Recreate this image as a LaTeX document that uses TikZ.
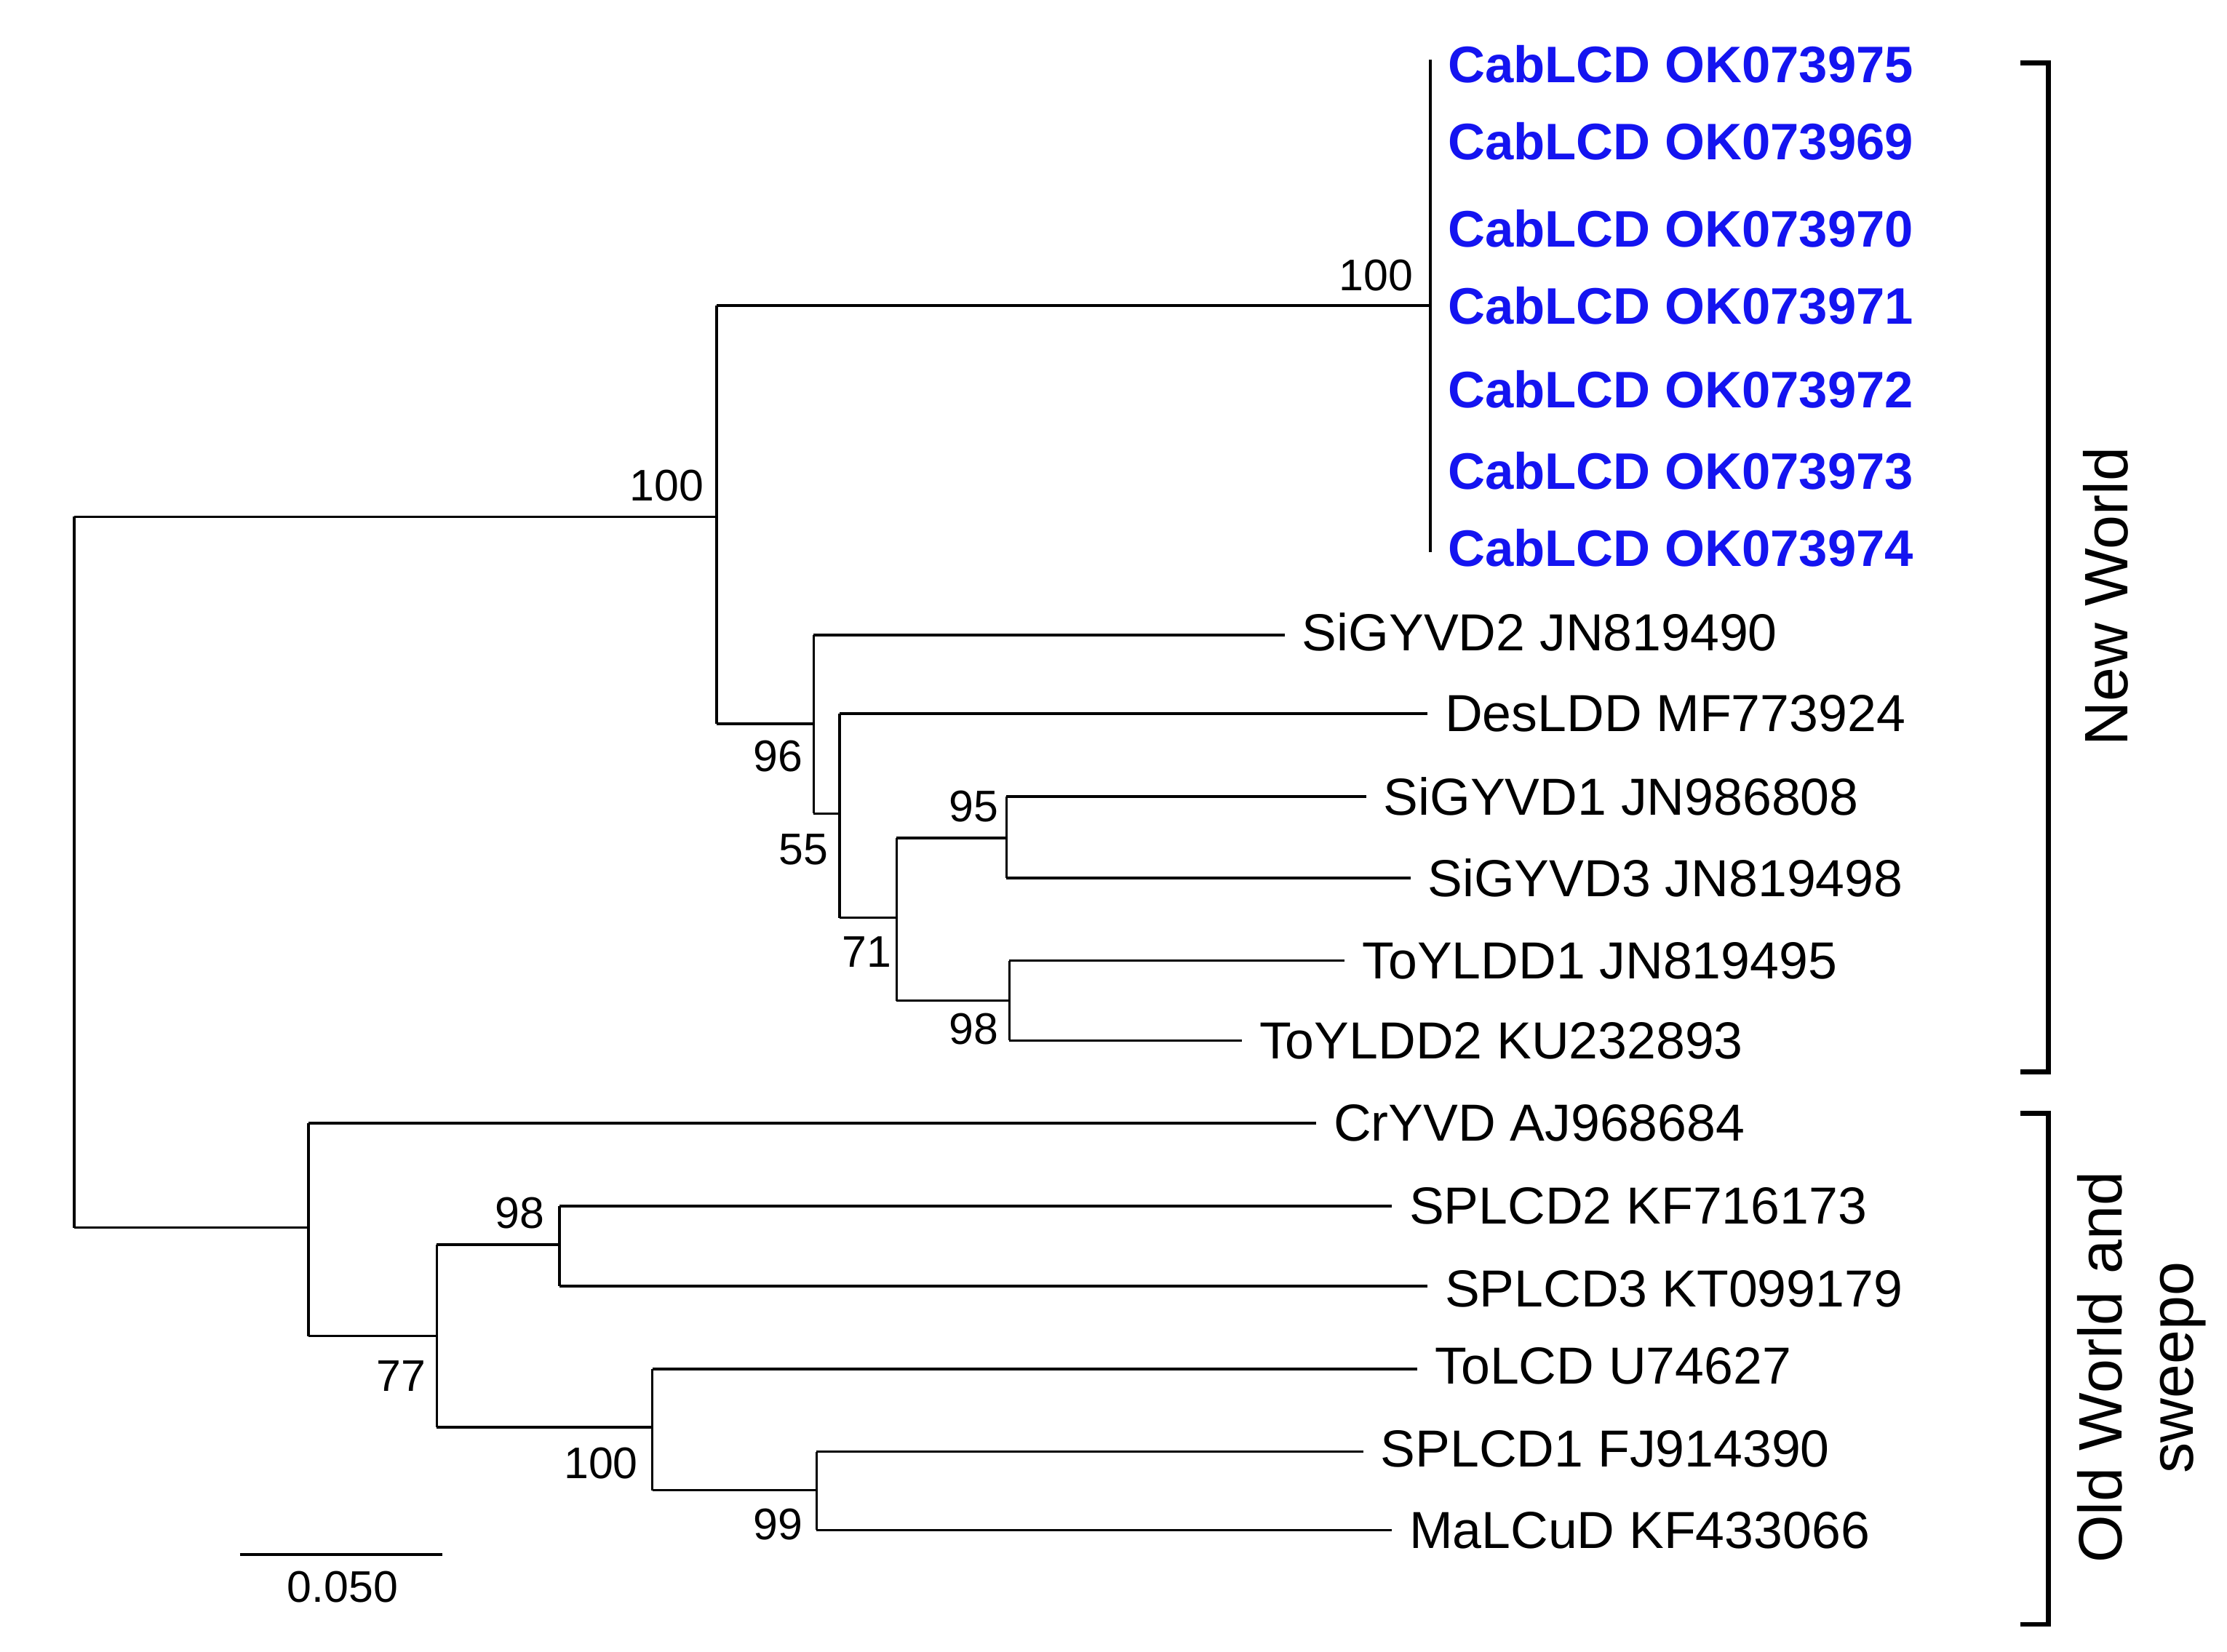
\documentclass[tikz,border=0pt]{standalone}
\usepackage{fontspec}
\setmainfont{Liberation Sans}
\definecolor{cblue}{RGB}{20,20,240}
\begin{document}
\begin{tikzpicture}[x=1pt,y=-1pt,
  br/.style={line width=1.8pt},
  tx/.style={anchor=west,font=\fontsize{36.5}{36}\selectfont,inner sep=0pt},
  bl/.style={tx,text=cblue,font=\fontsize{36}{36}\selectfont\bfseries},
  bs/.style={font=\fontsize{31}{31}\selectfont,inner sep=0pt}]
\useasboundingbox (0,0) rectangle (1560,1157);
% leaves
\foreach \y/\t [count=\i] in {45/OK073975,99/OK073969,160/OK073970,214/OK073971,273/OK073972,330/OK073973,384/OK073974}
  \node[bl] (c\i) at (1014,\y) {CabLCD \t};
\node[tx] (l1) at (912,443) {SiGYVD2 JN819490};
\node[tx] (l2) at (1012,500) {DesLDD MF773924};
\node[tx] (l3) at (969,558) {SiGYVD1 JN986808};
\node[tx] (l4) at (1000,615) {SiGYVD3 JN819498};
\node[tx] (l5) at (954,673) {ToYLDD1 JN819495};
\node[tx] (l6) at (882,729) {ToYLDD2 KU232893};
\node[tx] (l7) at (934,787) {CrYVD AJ968684};
\node[tx] (l8) at (987,845) {SPLCD2 KF716173};
\node[tx] (l9) at (1012,903) {SPLCD3 KT099179};
\node[tx] (l10) at (1005,957) {ToLCD U74627};
\node[tx] (l11) at (967,1015) {SPLCD1 FJ914390};
\node[tx] (l12) at (987,1072) {MaLCuD KF433066};
% tree
\draw[br] (52,362) -- (52,860);
\draw[br] (52,362) -- (502,362);
\draw[br] (502,214) -- (502,507);
\draw[br] (502,214) -- (1002,214);
\draw[br] (1002,42) -- (1002,387);
\draw[br] (502,507) -- (570,507);
\draw[br] (570,445) -- (570,570);
\draw[br] (570,445) -- (900,445);
\draw[br] (570,570) -- (588,570);
\draw[br] (588,500) -- (588,643);
\draw[br] (588,500) -- (1000,500);
\draw[br] (588,643) -- (628,643);
\draw[br] (628,587) -- (628,701);
\draw[br] (628,587) -- (705,587);
\draw[br] (705,558) -- (705,615);
\draw[br] (705,558) -- (957,558);
\draw[br] (705,615) -- (988,615);
\draw[br] (628,701) -- (707,701);
\draw[br] (707,673) -- (707,729);
\draw[br] (707,673) -- (942,673);
\draw[br] (707,729) -- (870,729);
\draw[br] (52,860) -- (216,860);
\draw[br] (216,787) -- (216,936);
\draw[br] (216,787) -- (922,787);
\draw[br] (216,936) -- (306,936);
\draw[br] (306,872) -- (306,1000);
\draw[br] (306,872) -- (392,872);
\draw[br] (392,845) -- (392,901);
\draw[br] (392,845) -- (975,845);
\draw[br] (392,901) -- (1000,901);
\draw[br] (306,1000) -- (457,1000);
\draw[br] (457,959) -- (457,1044);
\draw[br] (457,959) -- (993,959);
\draw[br] (457,1044) -- (572,1044);
\draw[br] (572,1017) -- (572,1072);
\draw[br] (572,1017) -- (955,1017);
\draw[br] (572,1072) -- (975,1072);
% bootstrap
\node[bs] (b1) at (467,340) {100};
\node[bs] (b2) at (964,193) {100};
\node[bs] (b3) at (545,530) {96};
\node[bs] (b4) at (563,595) {55};
\node[bs] (b5) at (607,667) {71};
\node[bs] (b6) at (682,565) {95};
\node[bs] (b7) at (682,721) {98};
\node[bs] (b8) at (281,964) {77};
\node[bs] (b9) at (364,850) {98};
\node[bs] (b10) at (421,1025) {100};
\node[bs] (b11) at (545,1068) {99};
% scale
\draw[br] (168,1089) -- (310,1089);
\node[bs] (sc) at (240,1112) {0.050};
% brackets
\draw[line width=3.5pt] (1415,44) -- (1435,44) -- (1435,751) -- (1415,751);
\draw[line width=3.5pt] (1415,780) -- (1435,780) -- (1435,1138) -- (1415,1138);
\node[bs,font=\fontsize{43}{43}\selectfont,rotate=90] (nw) at (1475,418) {New World};
\node[bs,font=\fontsize{43}{50}\selectfont,rotate=90,align=center] (ow) at (1500,958) {Old World and\\sweepo};
\end{tikzpicture}
\end{document}
